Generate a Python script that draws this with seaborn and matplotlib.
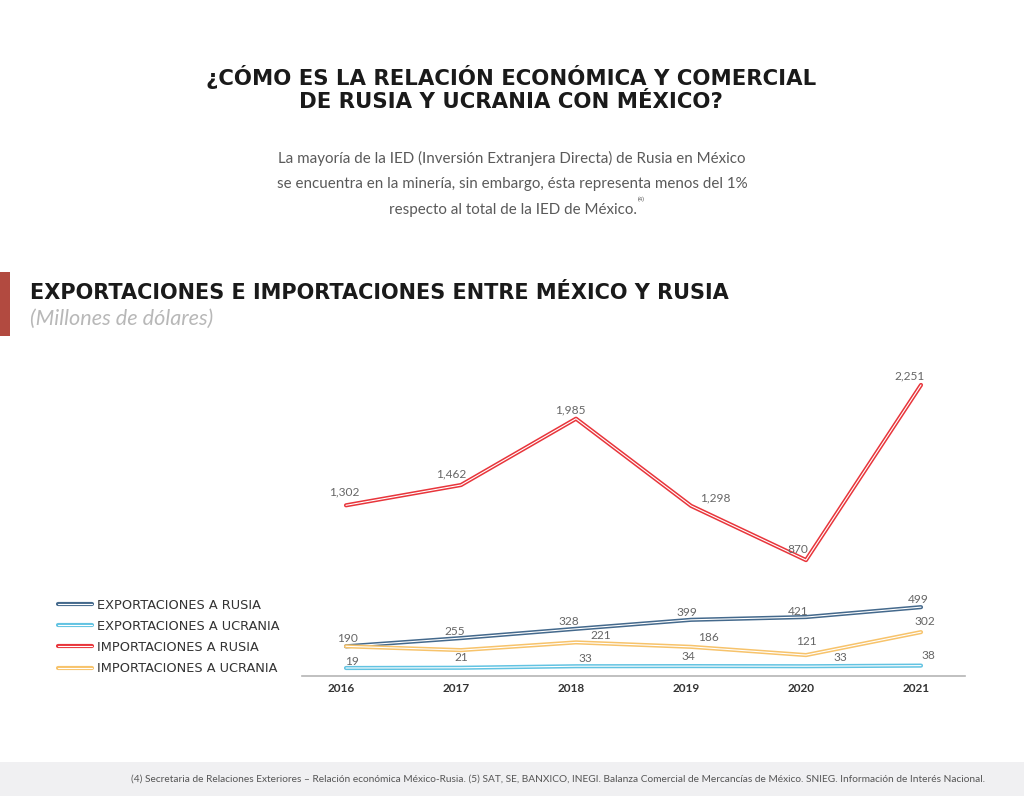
import numpy as np
import pandas as pd
import matplotlib
matplotlib.use("Agg")
import matplotlib.pyplot as plt
import matplotlib.patheffects as pe
import matplotlib.transforms as mtrans
from matplotlib.patches import Rectangle
import seaborn as sns

# ---------------- data ----------------
years = [2016, 2017, 2018, 2019, 2020, 2021]
year_labels = ["2016", "2017", "2018", "2019", "2020", "2021"]
series_names = ["EXPORTACIONES A RUSIA", "EXPORTACIONES A UCRANIA",
                "IMPORTACIONES A RUSIA", "IMPORTACIONES A UCRANIA"]
exp_rusia = [190, 255, 328, 399, 421, 499]
exp_ucrania = [19, 21, 33, 34, 33, 38]
imp_rusia = [1302, 1462, 1985, 1298, 870, 2251]
imp_ucrania = [190, 160, 221, 186, 121, 302]
# which points carry a printed value label
imp_ucrania_labeled = [False, False, True, True, True, True]

# ---------------- style ----------------
colors = ["#44698c", "#62c3e2", "#e8353b", "#f7c36b"]
# label offsets (dx, dy up) in pixels
off_exp_rusia = [(2, 8), (-6, 7), (-7, 7), (-4, 7), (-8, 6), (-3, 8)]
off_exp_ucrania = [(6, 7), (0, 10), (9, 8), (-3, 10), (34, 9), (7, 10)]
off_imp_rusia = [(-2, 13), (-10, 11), (-6, 9), (24, 8), (-8, 11), (-11, 9)]
off_imp_ucrania = [(0, 0), (0, 0), (25, 7), (17, 9), (0, 14), (4, 11)]

sns.set_theme(style="white")
plt.rcParams["font.family"] = ["Lato", "DejaVu Sans"]

W, H = 1024, 796
fig = plt.figure(figsize=(W / 100, H / 100), dpi=100)
fig.patch.set_facecolor("white")

def fx(x):
    return x / W

def fy(y):
    return 1 - y / H

ax = fig.add_axes([fx(302), fy(676), (965 - 302) / W, (676 - 370) / H])
ax.set_facecolor("none")

all_values = [exp_rusia, exp_ucrania, imp_rusia, imp_ucrania]
df = pd.DataFrame({
    "year": years * 4,
    "serie": sum([[n] * len(years) for n in series_names], []),
    "valor": sum(all_values, []),
})

sns.lineplot(data=df, x="year", y="valor", hue="serie", hue_order=series_names,
             palette=colors, ax=ax, legend=False, linewidth=0.8, sort=False)

for line, c in zip(ax.lines, colors):
    line.set_color("white")
    line.set_solid_capstyle("round")
    line.set_solid_joinstyle("round")
    line.set_path_effects([pe.Stroke(linewidth=3.0, foreground=c), pe.Normal()])

ax.set_xlim(2016 - 44 / 115, 2021 + 44 / 115)
ax.set_ylim(-44, 2369)
ax.set_yticks([])
ax.set_xticks(years)
ax.set_xticklabels(year_labels)
ax.set_xlabel("")
ax.set_ylabel("")
ax.tick_params(axis="x", length=0, pad=5, labelsize=8.5, labelcolor="#333333")
shift = mtrans.ScaledTranslation(-5 / 100, 0, fig.dpi_scale_trans)
for lbl in ax.get_xticklabels():
    lbl.set_fontweight("bold")
    lbl.set_transform(lbl.get_transform() + shift)
for s in ["left", "top", "right"]:
    ax.spines[s].set_visible(False)
ax.spines["bottom"].set_color("#b5b5b5")
ax.spines["bottom"].set_linewidth(1.2)

# value labels
def put_labels(vals, offs, flags=None):
    for i, (yr, v) in enumerate(zip(years, vals)):
        if flags is not None and not flags[i]:
            continue
        dx, dy = offs[i]
        ax.annotate(f"{v:,}", (yr, v), xytext=(dx, dy), textcoords="offset pixels",
                    ha="center", va="center", fontsize=8.6, color="#666666")

put_labels(exp_rusia, off_exp_rusia)
put_labels(exp_ucrania, off_exp_ucrania)
put_labels(imp_rusia, off_imp_rusia)
put_labels(imp_ucrania, off_imp_ucrania, imp_ucrania_labeled)

# legend
leg = ax.legend(ax.lines[:4], series_names, loc="upper left",
                bbox_to_anchor=(fx(58), fy(599)), bbox_transform=fig.transFigure,
                frameon=False, handlelength=2.6, handletextpad=0.45,
                labelspacing=0.62, borderpad=0, borderaxespad=0,
                prop={"family": "DejaVu Sans", "size": 9.3})
for t in leg.get_texts():
    t.set_color("#333333")

# ---------------- texts ----------------
renderer = fig.canvas.get_renderer()

def fit(t, target):
    w = t.get_window_extent(renderer).width
    t.set_fontsize(t.get_fontsize() * target / w)

t1 = fig.text(fx(511), fy(77), "¿CÓMO ES LA RELACIÓN ECONÓMICA Y COMERCIAL",
              ha="center", va="center", fontsize=14, fontweight="bold",
              family="DejaVu Sans", color="#1a1a1a")
fit(t1, 610)
t2 = fig.text(fx(511), fy(102), "DE RUSIA Y UCRANIA CON MÉXICO?",
              ha="center", va="center", fontsize=t1.get_fontsize(), fontweight="bold",
              family="DejaVu Sans", color="#1a1a1a")

p1 = fig.text(fx(512), fy(158), "La mayoría de la IED (Inversión Extranjera Directa) de Rusia en México",
              ha="center", va="center", fontsize=10, color="#5a5a5a", family="Lato")
fit(p1, 465)
fs = p1.get_fontsize()
fig.text(fx(512), fy(184), "se encuentra en la minería, sin embargo, ésta representa menos del 1%",
         ha="center", va="center", fontsize=fs, color="#5a5a5a", family="Lato")
fig.text(fx(513), fy(210), "respecto al total de la IED de México.",
         ha="center", va="center", fontsize=fs, color="#5a5a5a", family="Lato")
fig.text(fx(641), fy(199), "(4)", ha="center", va="center", fontsize=4.5,
         color="#555555", family="Lato")

# section heading
fig.add_artist(Rectangle((0, fy(336)), fx(10), (336 - 272) / H,
                         transform=fig.transFigure, color="#b24a40", lw=0))
s1 = fig.text(fx(30), fy(293), "EXPORTACIONES E IMPORTACIONES ENTRE MÉXICO Y RUSIA",
              ha="left", va="center", fontsize=14, fontweight="bold",
              family="DejaVu Sans", color="#1a1a1a")
fit(s1, 703)
s2 = fig.text(fx(30), fy(319), "(Millones de dólares)", ha="left", va="center",
              fontsize=13, style="italic", color="#b8b8b8", family="Lato")
fit(s2, 183)

# footer
fig.add_artist(Rectangle((0, 0), 1, 34 / H, transform=fig.transFigure,
                         color="#f0f0f2", lw=0, zorder=0))
f1 = fig.text(fx(985), fy(779),
              "(4) Secretaria de Relaciones Exteriores – Relación económica México-Rusia. "
              "(5) SAT, SE, BANXICO, INEGI. Balanza Comercial de Mercancías de México. "
              "SNIEG. Información de Interés Nacional.",
              ha="right", va="center", fontsize=6.5, color="#555555", family="Lato")
fit(f1, 845)

fig.savefig("out.png", dpi=100, facecolor="white")
